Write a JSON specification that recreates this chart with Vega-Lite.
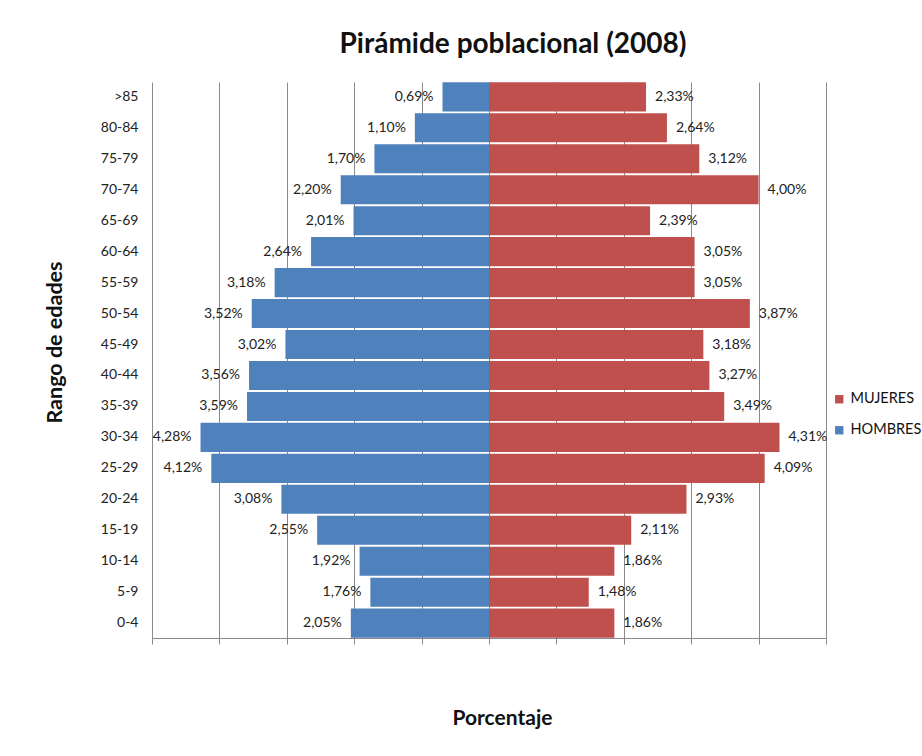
{
  "$schema": "https://vega.github.io/schema/vega-lite/v6.json",
  "width": 674,
  "height": 556,
  "autosize": "none",
  "padding": {"left": 152, "top": 82, "right": 96, "bottom": 118},
  "background": "white",
  "config": {
    "font": "Lato",
    "view": {"stroke": null},
    "locale": {"number": {"decimal": ",", "thousands": ".", "grouping": [3], "currency": ["", " €"]}}
  },
  "title": {
    "text": "Pirámide poblacional (2008)",
    "fontSize": 28,
    "fontWeight": "bold",
    "color": "#111111",
    "anchor": "middle",
    "dx": 24,
    "offset": 23
  },
  "data": {
    "values": [
      {"edad": ">85", "sexo": "HOMBRES", "pct": 0.0069},
      {"edad": ">85", "sexo": "MUJERES", "pct": 0.0233},
      {"edad": "80-84", "sexo": "HOMBRES", "pct": 0.0110},
      {"edad": "80-84", "sexo": "MUJERES", "pct": 0.0264},
      {"edad": "75-79", "sexo": "HOMBRES", "pct": 0.0170},
      {"edad": "75-79", "sexo": "MUJERES", "pct": 0.0312},
      {"edad": "70-74", "sexo": "HOMBRES", "pct": 0.0220},
      {"edad": "70-74", "sexo": "MUJERES", "pct": 0.0400},
      {"edad": "65-69", "sexo": "HOMBRES", "pct": 0.0201},
      {"edad": "65-69", "sexo": "MUJERES", "pct": 0.0239},
      {"edad": "60-64", "sexo": "HOMBRES", "pct": 0.0264},
      {"edad": "60-64", "sexo": "MUJERES", "pct": 0.0305},
      {"edad": "55-59", "sexo": "HOMBRES", "pct": 0.0318},
      {"edad": "55-59", "sexo": "MUJERES", "pct": 0.0305},
      {"edad": "50-54", "sexo": "HOMBRES", "pct": 0.0352},
      {"edad": "50-54", "sexo": "MUJERES", "pct": 0.0387},
      {"edad": "45-49", "sexo": "HOMBRES", "pct": 0.0302},
      {"edad": "45-49", "sexo": "MUJERES", "pct": 0.0318},
      {"edad": "40-44", "sexo": "HOMBRES", "pct": 0.0356},
      {"edad": "40-44", "sexo": "MUJERES", "pct": 0.0327},
      {"edad": "35-39", "sexo": "HOMBRES", "pct": 0.0359},
      {"edad": "35-39", "sexo": "MUJERES", "pct": 0.0349},
      {"edad": "30-34", "sexo": "HOMBRES", "pct": 0.0428},
      {"edad": "30-34", "sexo": "MUJERES", "pct": 0.0431},
      {"edad": "25-29", "sexo": "HOMBRES", "pct": 0.0412},
      {"edad": "25-29", "sexo": "MUJERES", "pct": 0.0409},
      {"edad": "20-24", "sexo": "HOMBRES", "pct": 0.0308},
      {"edad": "20-24", "sexo": "MUJERES", "pct": 0.0293},
      {"edad": "15-19", "sexo": "HOMBRES", "pct": 0.0255},
      {"edad": "15-19", "sexo": "MUJERES", "pct": 0.0211},
      {"edad": "10-14", "sexo": "HOMBRES", "pct": 0.0192},
      {"edad": "10-14", "sexo": "MUJERES", "pct": 0.0186},
      {"edad": "5-9", "sexo": "HOMBRES", "pct": 0.0176},
      {"edad": "5-9", "sexo": "MUJERES", "pct": 0.0148},
      {"edad": "0-4", "sexo": "HOMBRES", "pct": 0.0205},
      {"edad": "0-4", "sexo": "MUJERES", "pct": 0.0186}
    ]
  },
  "encoding": {
    "y": {
      "field": "edad",
      "type": "nominal",
      "sort": null,
      "scale": {"paddingInner": 0.06, "paddingOuter": 0.01},
      "axis": {
        "title": "Rango de edades",
        "titleFontSize": 21.5,
        "titleFontWeight": "bold",
        "titleColor": "#111111",
        "titleAngle": -90,
        "titleX": -97,
        "titleY": 260,
        "titleAlign": "center",
        "titleBaseline": "middle",
        "labelFontSize": 14,
        "labelColor": "#222222",
        "labelPadding": 14,
        "ticks": false,
        "domain": false,
        "grid": false
      }
    }
  },
  "layer": [
    {
      "transform": [{"filter": "datum.sexo === 'HOMBRES'"}],
      "encoding": {
        "x": {
          "field": "pct",
          "type": "quantitative",
          "scale": {"domain": [-0.05, 0.05], "reverse": true, "nice": false, "zero": false},
          "axis": null
        }
      },
      "layer": [
        {
          "mark": {"type": "bar", "orient": "horizontal"},
          "encoding": {
            "x2": {"datum": 0},
            "color": {
              "field": "sexo",
              "type": "nominal",
              "scale": {"domain": ["MUJERES", "HOMBRES"], "range": ["#C0504D", "#4F81BD"]},
              "legend": {
                "title": null,
                "orient": "none",
                "legendX": 680,
                "legendY": 310,
                "symbolType": "square",
                "symbolSize": 70,
                "labelFontSize": 14.5,
                "labelColor": "#111111",
                "rowPadding": 16
              }
            }
          }
        },
        {
          "mark": {"type": "text", "align": "right", "baseline": "middle", "dx": -9, "fontSize": 14, "color": "#222222"},
          "encoding": {"text": {"field": "pct", "type": "quantitative", "format": ".2%"}}
        }
      ]
    },
    {
      "transform": [{"filter": "datum.sexo === 'MUJERES'"}],
      "encoding": {
        "x": {
          "field": "pct",
          "type": "quantitative",
          "scale": {"domain": [-0.05, 0.05], "nice": false, "zero": false},
          "axis": {
            "orient": "bottom",
            "values": [-0.05, -0.04, -0.03, -0.02, -0.01, 0, 0.01, 0.02, 0.03, 0.04, 0.05],
            "labels": false,
            "grid": true,
            "gridColor": "#8a8a8a",
            "gridWidth": 1,
            "ticks": true,
            "tickSize": 6,
            "tickColor": "#8a8a8a",
            "domainColor": "#8a8a8a",
            "title": "Porcentaje",
            "titleFontSize": 21,
            "titleFontWeight": "bold",
            "titleColor": "#111111",
            "titleX": 350,
            "titleY": 80,
            "titleBaseline": "middle",
            "titleAlign": "center"
          }
        }
      },
      "layer": [
        {
          "mark": {"type": "bar", "orient": "horizontal"},
          "encoding": {
            "x2": {"datum": 0},
            "color": {"field": "sexo", "type": "nominal"}
          }
        },
        {
          "mark": {"type": "text", "align": "left", "baseline": "middle", "dx": 9, "fontSize": 14, "color": "#222222"},
          "encoding": {"text": {"field": "pct", "type": "quantitative", "format": ".2%"}}
        }
      ]
    }
  ],
  "resolve": {"scale": {"x": "independent"}, "axis": {"x": "independent"}}
}
